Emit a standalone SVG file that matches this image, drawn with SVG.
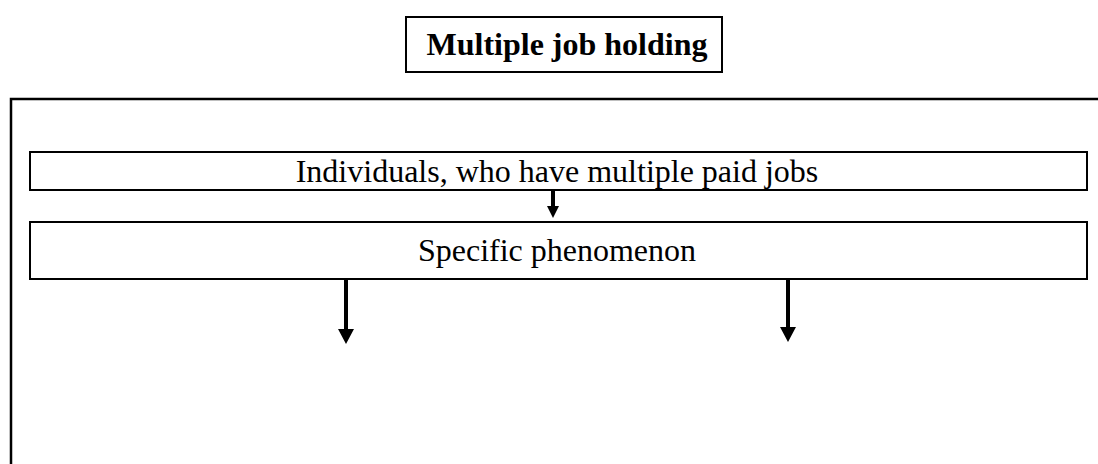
<svg xmlns="http://www.w3.org/2000/svg" width="1098" height="464" viewBox="0 0 1098 464">
<style>
.box{fill:#fff;stroke:#000;stroke-width:2}
.t{font-family:"Liberation Serif","Times New Roman",serif;font-size:32px;fill:#000;text-anchor:middle}
.b{font-weight:bold}
.c{stroke:#000;stroke-width:4;fill:none}
</style>
<defs>
<marker id="ah" markerWidth="16" markerHeight="16" refX="3" refY="8" orient="auto" markerUnits="userSpaceOnUse">
<path d="M0,0 L15,8 L0,16 Z" fill="#000"/>
</marker>
<marker id="ahs" markerWidth="12" markerHeight="12" refX="2" refY="6" orient="auto" markerUnits="userSpaceOnUse">
<path d="M0,0 L12,6 L0,12 Z" fill="#000"/>
</marker>
</defs>
<rect width="1098" height="464" fill="#fff"/>
<g id="frame">
<path d="M11,465 V99 H1098" fill="none" stroke="#000" stroke-width="2.5"/>
</g>
<g id="title">
<rect class="box" x="406" y="17" width="316" height="55"/>
<text class="t b" x="567" y="55">Multiple job holding</text>
</g>
<g id="individuals">
<rect class="box" x="30" y="152" width="1057" height="38"/>
<text class="t" x="557" y="182">Individuals, who have multiple paid jobs</text>
</g>
<g id="phenomenon">
<rect class="box" x="30" y="222" width="1057" height="57"/>
<text class="t" x="557" y="261">Specific phenomenon</text>
</g>
<g id="connectors">
<line class="c" x1="553" y1="191" x2="553" y2="208" marker-end="url(#ahs)" stroke-width="3"/>
<line class="c" x1="346" y1="280" x2="346" y2="332" marker-end="url(#ah)"/>
<line class="c" x1="788" y1="280" x2="788" y2="330" marker-end="url(#ah)"/>
</g>
</svg>
